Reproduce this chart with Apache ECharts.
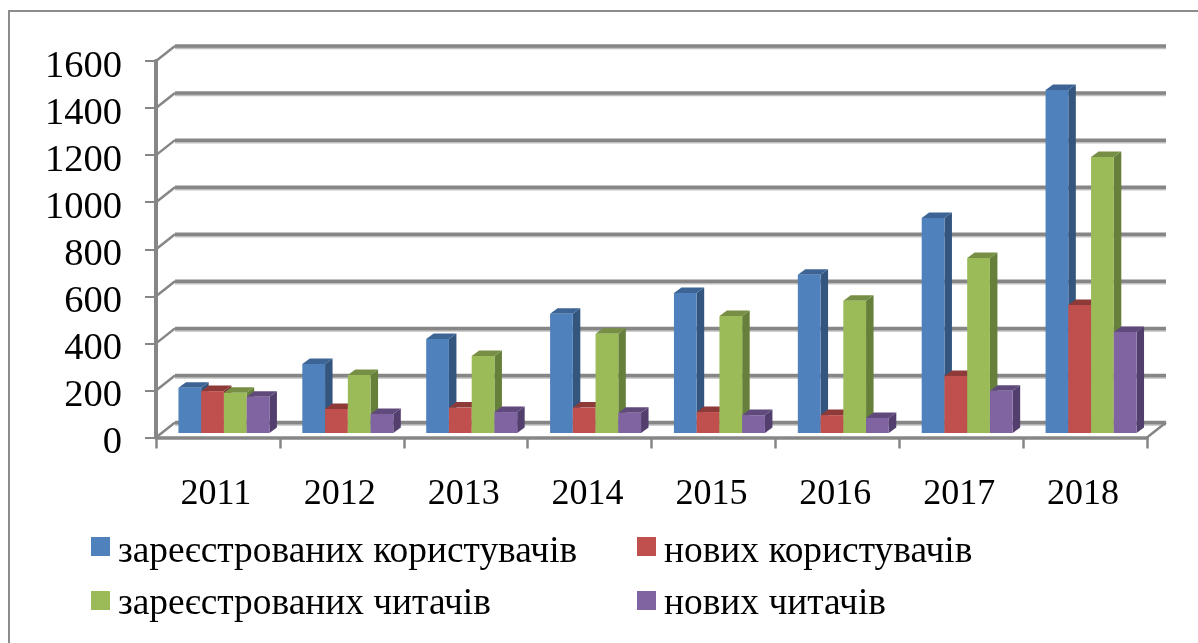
<!DOCTYPE html>
<html>
<head>
<meta charset="utf-8">
<style>
  html, body { margin: 0; padding: 0; background: #fff; }
  #main { width: 1198px; height: 643px; }
</style>
<script src="https://cdn.jsdelivr.net/npm/echarts@6/dist/echarts.min.js"></script>
</head>
<body>
<div id="main"></div>
<script>
const years = ['2011', '2012', '2013', '2014', '2015', '2016', '2017', '2018'];
const regUsers = [192, 293, 400, 507, 595, 673, 914, 1458];
const newUsers = [178, 102, 108, 108, 89, 76, 242, 544];
const regReaders = [171, 246, 327, 422, 497, 562, 744, 1173];
const newReaders = [154, 81, 89, 86, 76, 64, 180, 429];
const yTicks = [0, 200, 400, 600, 800, 1000, 1200, 1400, 1600];

const names = ['зареєстрованих користувачів', 'нових користувачів', 'зареєстрованих читачів', 'нових читачів'];
const values = [regUsers, newUsers, regReaders, newReaders];
const faces = [
  { front: '#4f81bd', top: '#3c6494', side: '#34557d' },
  { front: '#c0504d', top: '#8e3a38', side: '#7f3331' },
  { front: '#9bbb59', top: '#778f45', side: '#66803c' },
  { front: '#8064a2', top: '#604a7b', side: '#533f6e' }
];
// left, top, and how far the text sits below its swatch
const legendPos = [[91, 534, 12], [637, 534, 12], [91, 586, 8], [637, 586, 8]];

const gridColor = '#868686';
const serif = '"Liberation Serif", "DejaVu Serif", serif';

// depth of the back wall, and where the bars stand inside the floor
const wallDx = 19, wallDy = -15;
const barDx = 6, barDy = -4.5;
const sideDx = 7.5, sideDy = -5.5;

function renderWall(params, api) {
  const cs = params.coordSys;
  const y = api.coord([0, api.value(0)])[1];
  const x0 = cs.x, x1 = cs.x + cs.width;
  const lineStyle = { fill: null, stroke: gridColor, lineWidth: 3.5, shadowColor: 'rgba(0,0,0,0.25)', shadowOffsetY: 1.5 };
  const children = [{
    type: 'line',
    shape: { x1: x0, y1: y, x2: x0 + wallDx, y2: y + wallDy },
    style: { stroke: gridColor, lineWidth: 2.5 }
  }, {
    type: 'line',
    shape: { x1: x0 + wallDx, y1: y + wallDy, x2: x1 + wallDx, y2: y + wallDy },
    style: lineStyle
  }];
  if (api.value(0) === 0) {
    children.push({
      type: 'line',
      shape: { x1: x1, y1: y, x2: x1 + wallDx, y2: y + wallDy },
      style: { stroke: gridColor, lineWidth: 2.5 }
    });
  }
  return { type: 'group', children: children };
}

function barRenderer(idx) {
  return function (params, api) {
    const band = api.size([1, 0])[0];
    const w = band * 0.1836;
    const top = api.coord([api.value(0), api.value(1)]);
    const base = api.coord([api.value(0), 0]);
    const x = top[0] + barDx + (idx - 2) * w;
    const yt = top[1] + barDy, yb = base[1] + barDy;
    const c = faces[idx];
    return {
      type: 'group',
      children: [
        { type: 'polygon', shape: { points: [[x + w, yt], [x + w + sideDx, yt + sideDy], [x + w + sideDx, yb + sideDy], [x + w, yb]] }, style: { fill: c.side } },
        { type: 'polygon', shape: { points: [[x, yt], [x + sideDx, yt + sideDy], [x + w + sideDx, yt + sideDy], [x + w, yt]] }, style: { fill: c.top } },
        { type: 'rect', shape: { x: x, y: yt, width: w, height: yb - yt }, style: { fill: c.front } }
      ]
    };
  };
}

const series = [{
  name: 'wall',
  type: 'custom',
  silent: true,
  z: 1,
  renderItem: renderWall,
  data: yTicks.map(function (v) { return [v]; }),
  encode: { y: 0 }
}];
names.forEach(function (name, i) {
  series.push({
    name: name,
    type: 'custom',
    z: 2 + i,
    renderItem: barRenderer(i),
    itemStyle: { color: faces[i].front },
    data: values[i].map(function (v, k) { return [k, v]; }),
    encode: { x: 0, y: 1 }
  });
});

const chart = echarts.init(document.getElementById('main'), null, { renderer: 'canvas' });
chart.setOption({
  animation: false,
  backgroundColor: '#fff',
  grid: { left: 156, right: 51, top: 61, bottom: 205.5, containLabel: false },
  legend: names.map(function (name, i) {
    return {
      data: [name],
      left: legendPos[i][0],
      top: legendPos[i][1],
      icon: 'rect',
      itemWidth: 19,
      itemHeight: 19,
      itemGap: 0,
      padding: 0,
      selectedMode: false,
      formatter: function (n) { return '{t|' + n + '}'; },
      textStyle: {
        rich: { t: { fontFamily: serif, fontSize: 37.4, color: '#000', padding: [legendPos[i][2], 0, 0, 3] } }
      }
    };
  }),
  xAxis: {
    type: 'category',
    data: years,
    axisLine: { lineStyle: { color: gridColor, width: 3.5 } },
    axisTick: { show: true, length: 11, lineStyle: { color: gridColor, width: 2.5 } },
    axisLabel: { fontFamily: serif, fontSize: 36, color: '#000', margin: 39, padding: [0, 4, 0, 0] }
  },
  yAxis: {
    type: 'value',
    min: 0,
    max: 1600,
    interval: 200,
    axisLine: { show: true, lineStyle: { color: gridColor, width: 4 } },
    axisTick: { show: true, length: 11, lineStyle: { color: gridColor, width: 2 } },
    axisLabel: {
      margin: 34,
      formatter: function (v) { return '{n|' + v + '}'; },
      rich: { n: { fontFamily: serif, fontSize: 38.5, color: '#000', padding: [11, 0, 0, 0] } }
    },
    splitLine: { show: false }
  },
  graphic: [
    { type: 'polyline', shape: { points: [[9, 643], [9, 11], [1198, 11]] }, style: { fill: null, stroke: '#8c8c8c', lineWidth: 2 } }
  ],
  series: series
});
</script>
</body>
</html>
